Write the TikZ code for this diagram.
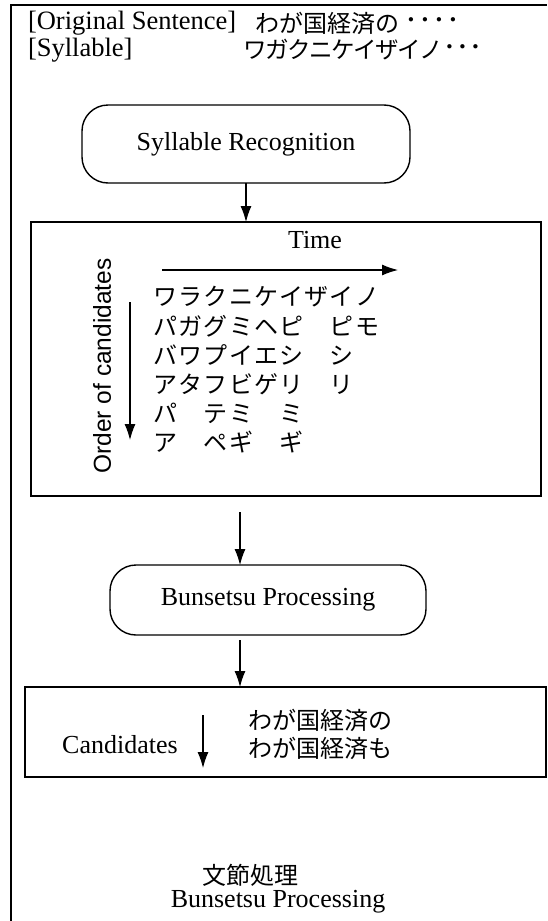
\documentclass[tikz,border=0pt]{standalone}
\usepackage{fontspec}
\setmainfont{Liberation Serif}
\newfontfamily\sansf{Liberation Sans}
\newfontfamily\cjk{Noto Sans CJK JP}
\usetikzlibrary{arrows.meta}
\newcommand\kc[1]{\makebox[25.2pt]{#1}}
\newcommand\kn[1]{\makebox[22pt]{#1}}
\newcommand\mdt{\makebox[14pt]{\raisebox{-1pt}{\textbf{·}}}}
\newcommand\mdtb{\makebox[13pt]{\raisebox{-1pt}{\textbf{·}}}}
\begin{document}
\begin{tikzpicture}[x=1pt,y=-1pt,
  every node/.style={inner sep=0pt, outer sep=0pt},
  lat/.style={font=\fontsize{26}{29}\selectfont},
  hdr/.style={font=\fontsize{26.5}{30}\selectfont},
  sanslbl/.style={font=\fontsize{24.5}{28}\selectfont\sansf},
  jp/.style={font=\fontsize{24}{28}\selectfont\cjk},
  jps/.style={font=\fontsize{23.5}{26}\selectfont\cjk},
  procbox/.style={draw, line width=1.4pt, rounded corners=26pt, lat},
  framebox/.style={draw, line width=1.6pt},
  arr/.style={line width=1.1pt, -{Latex[length=16pt,width=11pt]}},
  outer/.style={line width=1.2pt}
]
\useasboundingbox (0,0) rectangle (547,921);
% outer frame (top and left only)
\draw[outer] (11,921) -- (11,5) -- (547,5);

% header lines
\node[hdr, anchor=west] (os) at (28,23) {[Original Sentence]};
\node[jp, anchor=west] (osj) at (255,23) {わが国経済の};
\node[hdr, anchor=west] (osd) at (404,23) {\mdt\mdt\mdt\mdt};
\node[hdr, anchor=west] (sy) at (28,50) {[Syllable]};
\node[jps, anchor=west] (syj) at (244,50) {\kn{ワ}\kn{ガ}\kn{ク}\kn{ニ}\kn{ケ}\kn{イ}\kn{ザ}\kn{イ}\kn{ノ}};
\node[hdr, anchor=west] (syd) at (443,50) {\mdtb\mdtb\mdtb};

% syllable recognition
\node[procbox, minimum width=328pt, minimum height=78pt] (syl) at (246,144) {Syllable Recognition};

% candidate lattice box
\node[framebox, minimum width=510pt, minimum height=274pt] (big) at (286,359) {};
\draw[arr] (syl.south) -- (syl.south |- big.north);

\node[lat] (time) at (315,240) {Time};
\coordinate (t1) at (162,270);
\coordinate (t2) at (398,270);
\draw[arr] (t1) -- (t2);

\node[sanslbl, rotate=90] (order) at (102,366) {Order of candidates};
\coordinate (o1) at (130,302);
\coordinate (o2) at (130,440);
\draw[arr] (o1) -- (o2);

\node[jp, anchor=west] (r1) at (153,297) {\kc{ワ}\kc{ラ}\kc{ク}\kc{ニ}\kc{ケ}\kc{イ}\kc{ザ}\kc{イ}\kc{ノ}};
\node[jp, anchor=west] (r2) at (153,326) {\kc{パ}\kc{ガ}\kc{グ}\kc{ミ}\kc{ヘ}\kc{ピ}\kc{}\kc{ピ}\kc{モ}};
\node[jp, anchor=west] (r3) at (153,355) {\kc{バ}\kc{ワ}\kc{プ}\kc{イ}\kc{エ}\kc{シ}\kc{}\kc{シ}};
\node[jp, anchor=west] (r4) at (153,384) {\kc{ア}\kc{タ}\kc{フ}\kc{ビ}\kc{ゲ}\kc{リ}\kc{}\kc{リ}};
\node[jp, anchor=west] (r5) at (153,413) {\kc{パ}\kc{}\kc{テ}\kc{ミ}\kc{}\kc{ミ}};
\node[jp, anchor=west] (r6) at (153,442) {\kc{ア}\kc{}\kc{ペ}\kc{ギ}\kc{}\kc{ギ}};

% bunsetsu processing
\node[procbox, minimum width=316pt, minimum height=70pt] (bun) at (268,600) {Bunsetsu Processing};
\coordinate (a1) at (240,512);
\draw[arr] (a1) -- (a1 |- bun.north);

% candidates box
\node[framebox, minimum width=521pt, minimum height=90pt] (cand) at (285.5,732) {};
\coordinate (a2) at (240,640);
\draw[arr] (a2) -- (a2 |- cand.north);

\node[lat] (candl) at (120,745) {Candidates};
\coordinate (c1) at (203,715);
\coordinate (c2) at (203,768);
\draw[arr] (c1) -- (c2);
\node[jp, anchor=west] (w1) at (248,720) {わが国経済の};
\node[jp, anchor=west] (w2) at (248,748) {わが国経済も};

% caption
\node[jp] (capj) at (250,875) {文節処理};
\node[lat] (cape) at (278,902) {Bunsetsu Processing};
\end{tikzpicture}
\end{document}
